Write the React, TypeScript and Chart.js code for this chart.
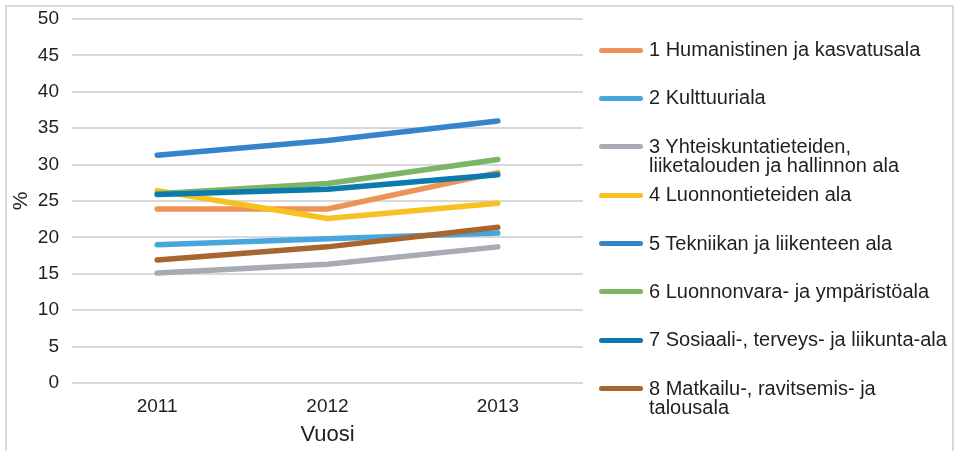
import React, { useEffect, useRef } from "react";
import { Chart, registerables } from "chart.js";

Chart.register(...registerables);

const years = ["2011", "2012", "2013"];

const seriesNames = [
  ["1 Humanistinen ja kasvatusala"],
  ["2 Kulttuuriala"],
  ["3 Yhteiskuntatieteiden,", "liiketalouden ja hallinnon ala"],
  ["4 Luonnontieteiden ala"],
  ["5 Tekniikan ja liikenteen ala"],
  ["6 Luonnonvara- ja ympäristöala"],
  ["7 Sosiaali-, terveys- ja liikunta-ala"],
  ["8 Matkailu-, ravitsemis- ja", "talousala"],
];

const humanistinen = [23.9, 23.9, 28.9];
const kulttuuri = [19.0, 19.8, 20.6];
const yhteiskunta = [15.1, 16.3, 18.7];
const luonnontiede = [26.4, 22.6, 24.7];
const tekniikka = [31.3, 33.3, 36.0];
const luonnonvara = [26.0, 27.4, 30.7];
const sosiaali = [25.9, 26.6, 28.6];
const matkailu = [16.9, 18.7, 21.4];

const seriesValues = [
  humanistinen,
  kulttuuri,
  yhteiskunta,
  luonnontiede,
  tekniikka,
  luonnonvara,
  sosiaali,
  matkailu,
];

const colors = [
  "#EC9455",
  "#47A6DD",
  "#A7ACB3",
  "#F7C220",
  "#3585C8",
  "#7BB565",
  "#0B7AAD",
  "#A7662F",
];

const yTitle = "%";
const xTitle = "Vuosi";

const FONT = "'Liberation Sans', Arial, sans-serif";
const TEXT = "#1f1f1f";

export default function App() {
  const ref = useRef<HTMLCanvasElement | null>(null);

  useEffect(() => {
    if (!ref.current) return;
    const chart = new Chart(ref.current, {
      type: "line",
      data: {
        labels: years,
        datasets: seriesValues.map((vals, i) => ({
          label: seriesNames[i].join(" "),
          data: vals,
          borderColor: colors[i],
          backgroundColor: colors[i],
          borderWidth: 5.5,
          borderCapStyle: "round" as const,
          borderJoinStyle: "round" as const,
          pointRadius: 0,
          pointHoverRadius: 0,
          tension: 0,
          fill: false,
          order: seriesValues.length - i,
        })),
      },
      options: {
        animation: false,
        responsive: false,
        maintainAspectRatio: false,
        layout: { padding: { top: 19, left: 0, right: 17, bottom: 0 } },
        plugins: {
          legend: { display: false },
          tooltip: { enabled: false },
        },
        scales: {
          x: {
            offset: true,
            grid: { display: false, drawTicks: false },
            border: { display: false },
            ticks: {
              color: TEXT,
              font: { family: FONT, size: 19 },
              padding: 12,
            },
            title: {
              display: true,
              text: xTitle,
              color: TEXT,
              font: { family: FONT, size: 22 },
              padding: { top: 0, bottom: 3 },
            },
            afterFit: (s: any) => {
              s.height = 68;
              s.paddingLeft = 0;
              s.paddingRight = 0;
            },
          },
          y: {
            min: 0,
            max: 50,
            ticks: {
              stepSize: 5,
              color: TEXT,
              font: { family: FONT, size: 19 },
              padding: 13,
            },
            grid: { color: "#d9d9d9", lineWidth: 2, drawTicks: false },
            border: { display: false },
            title: {
              display: true,
              text: yTitle,
              color: TEXT,
              font: { family: FONT, size: 21 },
              padding: { top: 9, bottom: 0 },
            },
            afterFit: (s: any) => {
              s.width = 72;
              s.paddingTop = 0;
              s.paddingBottom = 0;
            },
          },
        },
      },
    });
    return () => chart.destroy();
  }, []);

  return (
    <div
      style={{
        position: "absolute",
        left: 0,
        top: 0,
        width: 959,
        height: 451,
        overflow: "hidden",
        background: "#fff",
      }}
    >
      <div
        style={{
          position: "absolute",
          left: 5,
          top: 5,
          width: 945,
          height: 520,
          border: "2px solid #d9d9d9",
        }}
      />
      <canvas
        ref={ref}
        width={600}
        height={451}
        style={{ position: "absolute", left: 0, top: 0, width: 600, height: 451 }}
      />
      <div
        style={{
          position: "absolute",
          left: 599,
          top: 40,
          fontFamily: FONT,
          fontSize: 20,
          color: TEXT,
          lineHeight: "19.5px",
        }}
      >
        {seriesNames.map((lines, i) => (
          <div key={i} style={{ position: "relative", height: 48.4, whiteSpace: "nowrap" }}>
            <div
              style={{
                position: "absolute",
                left: 0,
                top: 7.5,
                width: 44,
                height: 5,
                borderRadius: 3,
                background: colors[i],
              }}
            />
            <div style={{ position: "absolute", left: 50, top: 0 }}>
              {lines.map((l, j) => (
                <div key={j}>{l}</div>
              ))}
            </div>
          </div>
        ))}
      </div>
    </div>
  );
}
